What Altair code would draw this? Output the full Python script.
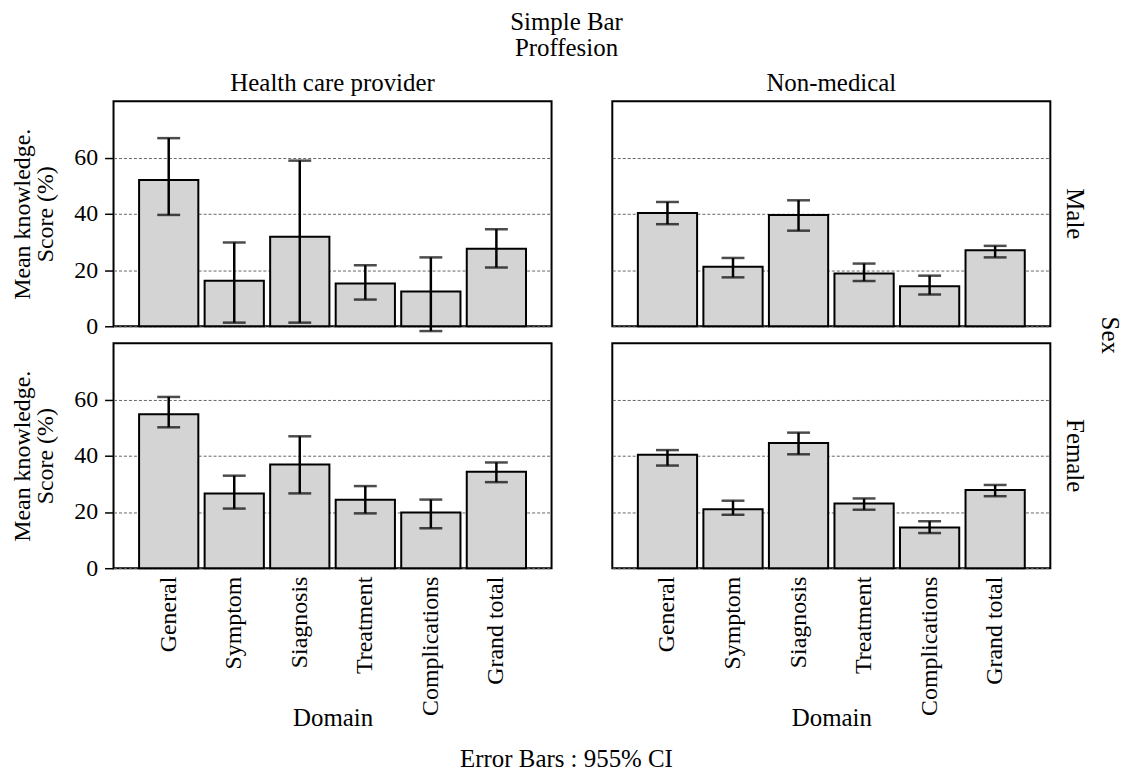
import altair as alt
import pandas as pd

domains = ["General", "Symptom", "Siagnosis", "Treatment", "Complications", "Grand total"]
professions = ["Health care provider", "Non-medical"]
sexes = ["Male", "Female"]

# Health care provider, Male
hcp_male_mean = [52.0, 16.2, 31.8, 15.2, 12.4, 27.6]
hcp_male_lo = [39.6, 1.3, 1.3, 9.5, -1.7, 20.9]
hcp_male_hi = [66.9, 29.8, 58.9, 21.7, 24.5, 34.5]
# Health care provider, Female
hcp_female_mean = [54.7, 26.6, 36.9, 24.3, 19.8, 34.3]
hcp_female_lo = [50.1, 21.2, 26.6, 19.5, 14.2, 30.6]
hcp_female_hi = [60.9, 32.9, 46.9, 29.2, 24.4, 37.6]
# Non-medical, Male
nm_male_mean = [40.3, 21.2, 39.6, 18.8, 14.2, 27.0]
nm_male_lo = [36.3, 17.4, 34.0, 16.1, 11.3, 24.5]
nm_male_hi = [44.2, 24.3, 44.8, 22.3, 18.0, 28.6]
# Non-medical, Female
nm_female_mean = [40.3, 21.0, 44.5, 23.0, 14.5, 27.8]
nm_female_lo = [36.5, 19.0, 40.5, 20.8, 12.5, 25.6]
nm_female_hi = [42.0, 24.0, 48.2, 24.8, 16.7, 29.6]

groups = [
    ("Health care provider", "Male", hcp_male_mean, hcp_male_lo, hcp_male_hi),
    ("Health care provider", "Female", hcp_female_mean, hcp_female_lo, hcp_female_hi),
    ("Non-medical", "Male", nm_male_mean, nm_male_lo, nm_male_hi),
    ("Non-medical", "Female", nm_female_mean, nm_female_lo, nm_female_hi),
]
rows = []
for prof, sex, means, los, his in groups:
    for d, m, lo, hi in zip(domains, means, los, his):
        rows.append({"Proffesion": prof, "Sex": sex, "Domain": d, "mean": m, "lo": lo, "hi": hi})
df = pd.DataFrame(rows)

FONT = "Liberation Serif"
YTITLE = ["Mean knowledge.", "Score (%)"]

xenc = alt.X(
    "Domain:N",
    sort=domains,
    title="Domain",
    scale=alt.Scale(paddingInner=0.096, paddingOuter=0.39),
    axis=alt.Axis(labelAngle=270, ticks=False, labelPadding=8, domain=False,
                  titleY=150, titleBaseline="middle", grid=False, titleFontSize=25),
)
yscale = alt.Scale(domain=[0, 80], nice=False)
yaxis = alt.Axis(values=[0, 20, 40, 60], tickSize=9, labelPadding=7, titlePadding=16,
                 grid=True, gridDash=[3, 2], gridColor="#666666", gridWidth=1,
                 titleLineHeight=23, domain=False)

bars = alt.Chart().mark_bar(fill="#d4d4d4", stroke="black", strokeWidth=2).encode(
    x=xenc,
    y=alt.Y("mean:Q", title=YTITLE, scale=yscale, axis=yaxis),
)
err = alt.Chart().mark_errorbar(ticks=True, size=23, thickness=2.5, color="black").encode(
    x=alt.X("Domain:N", sort=domains),
    y=alt.Y("lo:Q", title=YTITLE, scale=yscale),
    y2="hi:Q",
)

facet = alt.layer(bars, err, data=df).properties(width=440, height=226).facet(
    row=alt.Row("Sex:N", sort=sexes, title="Sex",
                header=alt.Header(labelOrient="right", titleOrient="right",
                                  labelAngle=90, titleAngle=90, labelPadding=12,
                                  titlePadding=0)),
    column=alt.Column("Proffesion:N", sort=professions, title=None,
                      header=alt.Header(labelOrient="top", labelPadding=5)),
    spacing={"row": 17, "column": 61},
    bounds="flush",
).properties(
    title=alt.TitleParams("Error Bars : 955% CI", orient="bottom", anchor="middle",
                          font=FONT, fontSize=25, fontWeight="normal", offset=17, color="black")
)

chart = alt.vconcat(facet).properties(
    title=alt.TitleParams(["Simple Bar", "Proffesion"], anchor="middle", font=FONT,
                          fontSize=25, fontWeight="normal", lineHeight=27, offset=1,
                          dy=-9, color="black"),
    padding={"left": 3, "top": 0, "right": 1, "bottom": 0},
    background="white",
).configure_view(
    stroke="black", strokeWidth=2
).configure_axis(
    labelFont=FONT, titleFont=FONT, labelFontSize=24, titleFontSize=24,
    titleFontWeight="normal", labelColor="black", titleColor="black",
    tickColor="black", tickWidth=1.5, domainColor="black"
).configure_header(
    labelFont=FONT, titleFont=FONT, labelFontSize=25, titleFontSize=25,
    titleFontWeight="normal", labelColor="black", titleColor="black"
)

chart.save("out.html", embed_options={"renderer": "svg", "actions": False})
